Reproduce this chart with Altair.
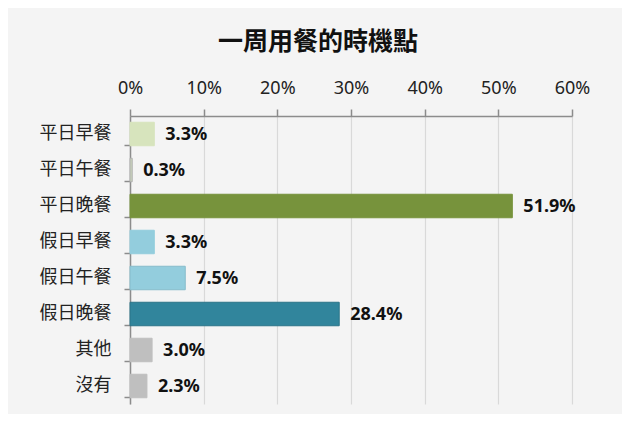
import altair as alt
import pandas as pd

categories = ["平日早餐", "平日午餐", "平日晚餐", "假日早餐", "假日午餐", "假日晚餐", "其他", "沒有"]
values = [3.3, 0.3, 51.9, 3.3, 7.5, 28.4, 3.0, 2.3]
colors = ["#d7e4bd", "#c9d3bb", "#77933c", "#93cddd", "#93cddd", "#31859c", "#bfbfbf", "#bfbfbf"]
strokes = ["#d7e4bd", "#b0b0b0", "#77933c", "#93cddd", "#86bccb", "#2b7488", "#bfbfbf", "#bfbfbf"]
x_ticks = [0, 10, 20, 30, 40, 50, 60]

df = pd.DataFrame({"cat": categories, "val": values,
                   "label": [f"{v:.1f}%" for v in values]})

y_enc = alt.Y("cat:N", sort=categories, title=None,
              scale=alt.Scale(paddingInner=0.35, paddingOuter=0.175),
              axis=alt.Axis(bandPosition=1, tickSize=6, labelPadding=13,
                            labelFont="Noto Sans CJK TC", labelFontSize=18,
                            labelColor="#222222", domainColor="#8c8c8c",
                            tickColor="#8c8c8c", domainWidth=1.5, tickWidth=1.5,
                            grid=False))

x_enc = alt.X("val:Q", title=None,
              scale=alt.Scale(domain=[0, 60], nice=False, zero=True),
              axis=alt.Axis(orient="top", values=x_ticks, labelExpr="datum.value + '%'",
                            labelFlush=False, labelOverlap=False,
                            tickSize=7, labelPadding=12, labelFont="Noto Sans",
                            labelFontSize=18, labelColor="#222222",
                            domainColor="#8c8c8c", tickColor="#8c8c8c",
                            domainWidth=1.5, tickWidth=1.5,
                            grid=True, gridColor="#d9d9d9", gridWidth=1.2))

bars = alt.Chart(df).mark_bar(size=23.5, strokeWidth=1).encode(
    x=x_enc,
    y=y_enc,
    color=alt.Color("cat:N", scale=alt.Scale(domain=categories, range=colors), legend=None),
    stroke=alt.Stroke("cat:N", scale=alt.Scale(domain=categories, range=strokes), legend=None),
)

text = alt.Chart(df).mark_text(align="left", baseline="middle", dx=11, dy=1,
                               font="Noto Sans", fontSize=18, fontWeight="bold",
                               color="#111111").encode(
    x="val:Q",
    y=alt.Y("cat:N", sort=categories),
    text="label:N",
)

chart = alt.layer(bars, text).properties(
    width=442, height=288,
    title=alt.TitleParams("一周用餐的時機點", font="Noto Sans CJK TC", fontSize=25,
                          fontWeight="bold", color="#111111", anchor="middle",
                          frame="group", dx=-33, offset=24),
    autosize=alt.AutoSizeParams(type="none"),
    padding={"left": 122, "top": 108, "right": 50, "bottom": 10},
    background="#f4f4f4",
).configure_view(stroke=None)

chart.save("out.html", embed_options={"renderer": "svg", "actions": False})
